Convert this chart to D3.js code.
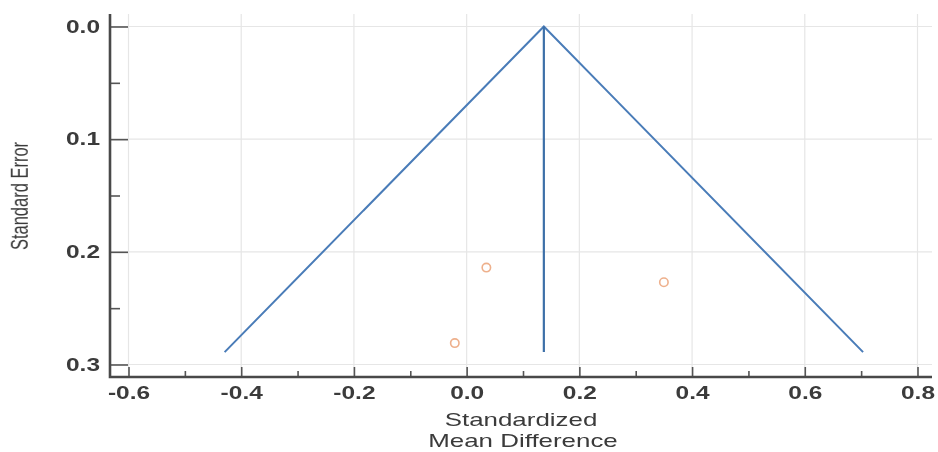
<!DOCTYPE html>
<html>
<head>
<meta charset="utf-8">
<script src="https://cdn.jsdelivr.net/npm/d3@7"></script>
<style>
  html, body { margin: 0; padding: 0; background: #fff; }
  svg { display: block; }
  text { font-family: "Liberation Sans", Arial, sans-serif; fill: #3a3a3a; }
</style>
</head>
<body>
<svg id="chart" width="938" height="452"></svg>
<script>
// Funnel plot: standardized mean difference vs. standard error
const studySMD = [0.035, 0.35, -0.021];
const studySE  = [0.214, 0.227, 0.281];
const pooledSMD = 0.137;
const maxSE = 0.289;
const xTicks = [-0.6, -0.4, -0.2, 0.0, 0.2, 0.4, 0.6, 0.8];
const xMinorTicks = [-0.5, -0.3, -0.1, 0.1, 0.3, 0.5, 0.7];
const yTicks = [0.0, 0.1, 0.2, 0.3];
const yMinorTicks = [0.05, 0.15, 0.25];

const svg = d3.select("#chart");
const x = d3.scaleLinear().domain([-0.6, 0.8]).range([128.5, 917.5]);
const y = d3.scaleLinear().domain([0, 0.3]).range([26.5, 364.5]);

const plotLeft = 110, plotBottom = 377, plotTop = 14, plotRight = 932;
const wide = 1.4;   // horizontal stretch applied to all lettering
const fmt = d => d3.format(".1f")(d).replace("\u2212", "-");

const defs = svg.append("defs");
defs.append("filter").attr("id", "soft").append("feGaussianBlur").attr("stdDeviation", 0.5);

const g = svg.append("g").attr("filter", "url(#soft)");

// grid
g.selectAll(".vgrid").data(xTicks).join("line")
  .attr("x1", d => x(d)).attr("x2", d => x(d))
  .attr("y1", plotTop).attr("y2", plotBottom)
  .attr("stroke", "#e6e6e6").attr("stroke-width", 1.2);
g.selectAll(".hgrid").data(yTicks).join("line")
  .attr("x1", plotLeft).attr("x2", plotRight)
  .attr("y1", d => y(d)).attr("y2", d => y(d))
  .attr("stroke", "#e6e6e6").attr("stroke-width", 1.2);

// funnel
const ci = 1.96;
const funnel = [
  [pooledSMD - ci * maxSE, maxSE],
  [pooledSMD, 0],
  [pooledSMD + ci * maxSE, maxSE]
];
const line = d3.line().x(d => x(d[0])).y(d => y(d[1]));
g.append("path").attr("d", line(funnel))
  .attr("fill", "none").attr("stroke", "#4a7cb8").attr("stroke-width", 2);
g.append("path").attr("d", line([[pooledSMD, 0], [pooledSMD, maxSE]]))
  .attr("fill", "none").attr("stroke", "#3d6fa8").attr("stroke-width", 2.2);

// studies
g.selectAll(".study").data(studySMD).join("circle")
  .attr("cx", d => x(d)).attr("cy", (d, i) => y(studySE[i]))
  .attr("r", 4.2).attr("fill", "none")
  .attr("stroke", "#eeb08c").attr("stroke-width", 1.6);

// axes
const xAxis = d3.axisBottom(x).tickValues(xTicks).tickSize(-10).tickPadding(10).tickFormat(fmt);
const xAxisMinor = d3.axisBottom(x).tickValues(xMinorTicks).tickSize(-6).tickFormat("");
const yAxis = d3.axisLeft(y).tickValues(yTicks).tickSize(-18).tickFormat(fmt);
const yAxisMinor = d3.axisLeft(y).tickValues(yMinorTicks).tickSize(-10).tickFormat("");

function styleAxis(sel) {
  sel.select(".domain").remove();
  sel.selectAll(".tick line").attr("stroke", "#555").attr("stroke-width", 1.6);
  sel.selectAll(".tick text").attr("font-size", 17.5).attr("fill", "#444")
    .attr("font-weight", "bold");
}

const gx = g.append("g").attr("transform", `translate(0,${plotBottom})`).call(xAxis).call(styleAxis);
gx.selectAll(".tick text").attr("transform", `scale(${wide},1)`);
g.append("g").attr("transform", `translate(0,${plotBottom})`).call(xAxisMinor).call(styleAxis);
const gy = g.append("g").attr("transform", `translate(${plotLeft},0)`).call(yAxis).call(styleAxis);
gy.selectAll(".tick text").attr("x", -10 / wide).attr("transform", `scale(${wide},1)`);
g.append("g").attr("transform", `translate(${plotLeft},0)`).call(yAxisMinor).call(styleAxis);

// axis lines
g.append("path").attr("d", `M${plotLeft},${plotTop}V${plotBottom}H${plotRight}`)
  .attr("fill", "none").attr("stroke", "#4a4a4a").attr("stroke-width", 2.6);

// titles
g.append("text")
  .attr("transform", `translate(28,196) scale(${wide},1) rotate(-90)`)
  .attr("text-anchor", "middle")
  .attr("font-size", 16.5).attr("fill", "#555")
  .text("Standard Error");
g.append("text").attr("transform", `translate(521,426) scale(${wide},1)`)
  .attr("text-anchor", "middle")
  .attr("font-size", 18.5).attr("fill", "#444").text("Standardized");
g.append("text").attr("transform", `translate(523,447) scale(${wide},1)`)
  .attr("text-anchor", "middle")
  .attr("font-size", 18.5).attr("fill", "#444").text("Mean Difference");
</script>
</body>
</html>
